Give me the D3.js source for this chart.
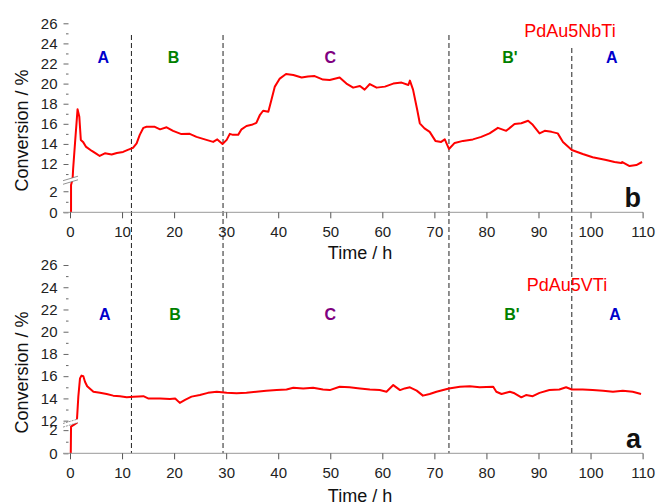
<!DOCTYPE html>
<html>
<head>
<meta charset="utf-8">
<script src="https://cdn.jsdelivr.net/npm/d3@7"></script>
<style>
  body { margin: 0; background: #fff; }
  svg { display: block; font-family: Arial, "Liberation Sans", sans-serif; }
</style>
</head>
<body>
<script>
// conversion vs time, [time h, conversion %]
const seriesB = [
  [0.2, 0], [0.2, 2.6], [0.5, 10.5], [0.6, 11.5], [0.96, 14.06], [1.45, 17.44], [1.79, 16.7],
  [2.08, 14.4], [2.5, 14.2], [3.1, 13.7], [4.2, 13.3], [5.1, 13.0], [5.7, 12.8], [6.7, 13.06],
  [8.0, 12.95], [9.0, 13.1], [10.2, 13.2], [11.1, 13.4], [12.1, 13.6], [12.8, 14.06],
  [13.4, 14.9], [14.1, 15.6], [14.7, 15.7], [16.3, 15.7], [17.3, 15.45], [18.56, 15.65],
  [19.8, 15.3], [21.4, 14.98], [23.0, 15.0], [24.3, 14.7], [26.2, 14.4], [27.5, 14.2],
  [28.3, 14.45], [29.3, 14.0], [30.1, 14.4], [30.7, 15.0], [31.3, 14.9], [32.3, 14.9],
  [32.95, 15.45], [33.9, 15.78], [34.9, 15.9], [35.8, 16.1], [36.5, 16.9], [37.1, 17.3],
  [38.1, 17.2], [38.7, 18.4], [39.35, 19.7], [40.3, 20.5], [41.5, 20.95], [42.9, 20.85],
  [44.5, 20.6], [45.7, 20.7], [47.0, 20.75], [48.6, 20.4], [49.9, 20.35], [51.8, 20.6],
  [53.1, 20.0], [54.4, 19.6], [55.7, 19.76], [56.6, 19.4], [57.6, 19.96], [58.9, 19.6],
  [60.5, 19.7], [62.1, 20.0], [63.7, 20.1], [65.0, 19.86], [65.3, 20.3], [65.9, 19.4],
  [66.7, 17.4], [67.2, 16.05], [68.1, 15.55], [69.1, 15.2], [70.2, 14.3], [71.3, 14.2],
  [72.0, 14.45], [72.8, 13.5], [73.9, 14.1], [75.5, 14.3], [77.4, 14.45], [79.0, 14.7],
  [80.6, 15.05], [82.2, 15.6], [83.8, 15.3], [85.4, 15.98], [86.7, 16.05], [88.0, 16.3],
  [88.9, 15.9], [90.2, 15.05], [91.2, 15.3], [92.5, 15.2], [93.7, 15.05], [94.7, 14.2],
  [96.4, 13.4], [98.5, 13.0], [100.4, 12.67], [103.0, 12.4], [104.6, 12.2], [105.9, 12.1],
  [106.1, 12.2], [107.5, 11.8], [108.8, 11.9], [109.9, 12.2]
];

const seriesA = [
  [0.15, 0], [0.2, 2.3], [1.3, 11.8], [1.6, 14.16], [1.92, 15.8], [2.2, 16.05], [2.56, 16.0],
  [2.88, 15.5], [3.3, 15.1], [4.5, 14.6], [5.76, 14.5], [7.04, 14.4], [8.3, 14.25], [9.6, 14.2],
  [10.9, 14.1], [12.2, 14.15], [14.1, 14.2], [15.0, 14.0], [17.3, 14.0], [19.2, 13.95],
  [20.2, 14.0], [21.1, 13.6], [22.1, 13.86], [23.35, 14.16], [24.95, 14.3], [26.5, 14.5],
  [28.2, 14.6], [30.1, 14.5], [32.0, 14.46], [33.9, 14.5], [35.8, 14.6], [37.7, 14.7],
  [39.7, 14.75], [41.6, 14.8], [42.9, 14.96], [44.8, 14.9], [46.7, 14.96], [48.6, 14.8],
  [49.9, 14.75], [51.8, 15.05], [53.7, 15.0], [55.7, 14.9], [57.6, 14.8], [59.5, 14.75],
  [60.8, 14.6], [62.1, 15.2], [63.4, 14.75], [64.3, 14.9], [65.3, 15.0], [66.6, 14.7],
  [67.8, 14.25], [69.1, 14.4], [70.4, 14.6], [72.8, 14.9], [74.9, 15.05], [76.8, 15.1],
  [78.7, 15.0], [81.3, 15.05], [81.9, 14.6], [82.9, 14.4], [84.5, 14.6], [85.4, 14.46],
  [86.7, 14.1], [87.6, 14.3], [88.9, 14.2], [90.2, 14.5], [92.1, 14.75], [94.0, 14.8],
  [95.3, 15.0], [96.4, 14.8], [98.5, 14.8], [100.4, 14.75], [102.4, 14.7], [104.3, 14.6],
  [106.2, 14.7], [108.1, 14.6], [109.7, 14.4]
];

const phaseBounds = [11.8, 29.4, 72.8, 96.4];          // dashed lines, h
const phaseLabels = ["A", "B", "C", "B'", "A"];
const phaseColors = ["#0000cc", "#008000", "#800080", "#008000", "#0000cc"];
const phasePosB = [6.4, 19.9, 50, 84.5, 104.1];        // label centres, h
const phasePosA = [6.7, 20.2, 50, 84.9, 104.7];
const xTicks = d3.range(0, 111, 10);
const yMajor = [0, 2, 12, 14, 16, 18, 20, 22, 24, 26];
const yMinor = [1, 11, 13, 15, 17, 19, 21, 23, 25];

const width = 656, height = 504;
const axisX = 68.5;

const x = d3.scaleLinear().domain([0, 110]).range([70, 642.6]);

// broken y axis: piecewise scale, lower part 0..low, upper part high..26
const panels = [
  { data: seriesB, name: "PdAu5NbTi", letter: "b", phasePos: phasePosB,
    yDomain: [0, 2.7, 10.3, 26], yRange: [212.3, 183.9, 181.1, 23.3],
    labelY: 63.3, nameX: 570, nameY: 36.7, letterY: 206.7, titleY: 259.3, ylabelY: 130.5 },
  { data: seriesA, name: "PdAu5VTi", letter: "a", phasePos: phasePosA,
    yDomain: [0, 2.4, 11.6, 26], yRange: [453.3, 425.5, 425.1, 265],
    labelY: 320, nameX: 567, nameY: 290.7, letterY: 448.3, titleY: 501.5, ylabelY: 372.5 }
];

const svg = d3.select("body").append("svg")
  .attr("width", width)
  .attr("height", height)
  .attr("viewBox", [0, 0, width, height]);

// phase boundaries run through both panels
svg.append("g")
  .attr("stroke", "#222")
  .attr("stroke-width", 1)
  .attr("stroke-dasharray", "5 3")
  .selectAll("line")
  .data(phaseBounds)
  .join("line")
  .attr("x1", d => x(d))
  .attr("x2", d => x(d))
  .attr("y1", (d, i) => i === phaseBounds.length - 1 ? 48 : 35)
  .attr("y2", panels[1].yRange[0]);

panels.forEach(p => {
  const y = d3.scaleLinear().domain(p.yDomain).range(p.yRange);
  const g = svg.append("g");
  const zeroY = p.yRange[0];
  const breakY = (p.yRange[1] + p.yRange[2]) / 2;

  // curve
  const line = d3.line()
    .x(d => x(d[0]))
    .y(d => y(d[1]));

  g.append("path")
    .datum(p.data)
    .attr("fill", "none")
    .attr("stroke", "#ff0000")
    .attr("stroke-width", 2)
    .attr("stroke-linejoin", "round")
    .attr("d", line);

  // axis break mark
  const bx0 = 63, bx1 = 78, slope = -4.5, gap = 1.8;
  g.append("path")
    .attr("fill", "#fff")
    .attr("d", `M${bx0},${breakY + gap}L${bx1},${breakY + gap + slope}L${bx1},${breakY - gap + slope}L${bx0},${breakY - gap}Z`);
  g.append("g")
    .attr("stroke", "#777")
    .attr("stroke-width", 0.8)
    .attr("stroke-dasharray", p.letter === "a" ? "2 1" : null)
    .selectAll("line")
    .data([gap, -gap])
    .join("line")
    .attr("x1", bx0).attr("x2", bx1)
    .attr("y1", d => breakY + d)
    .attr("y2", d => breakY + d + slope);

  // y axis, major + minor ticks, no domain line
  const inRange = v => v <= p.yDomain[1] || v >= p.yDomain[2];
  g.append("g")
    .attr("transform", `translate(${axisX},0)`)
    .call(d3.axisLeft(y).tickValues(yMajor.filter(inRange)).tickSize(5).tickPadding(6))
    .call(a => a.select(".domain").remove())
    .call(a => a.selectAll(".tick line").attr("stroke", "#666"))
    .call(a => a.selectAll(".tick text")
      .attr("font-size", 15)
      .attr("font-family", "Arial, 'Liberation Sans', sans-serif")
      .attr("fill", "#222"));

  g.append("g")
    .attr("transform", `translate(${axisX},0)`)
    .call(d3.axisLeft(y).tickValues(yMinor.filter(inRange)).tickSize(2.5).tickFormat(""))
    .call(a => a.select(".domain").remove())
    .call(a => a.selectAll(".tick line").attr("stroke", "#666"));

  // x axis
  g.append("line")
    .attr("x1", 63).attr("x2", 643)
    .attr("y1", zeroY).attr("y2", zeroY)
    .attr("stroke", "#999")
    .attr("stroke-width", 1);

  g.append("g")
    .attr("transform", `translate(0,${zeroY})`)
    .call(d3.axisBottom(x).tickValues(xTicks).tickSize(6).tickPadding(8))
    .call(a => a.select(".domain").remove())
    .call(a => a.selectAll(".tick line").attr("stroke", "#555"))
    .call(a => a.selectAll(".tick text")
      .attr("font-size", 15)
      .attr("font-family", "Arial, 'Liberation Sans', sans-serif")
      .attr("fill", "#222"));

  // axis titles
  g.append("text")
    .attr("x", 360)
    .attr("y", p.titleY)
    .attr("text-anchor", "middle")
    .attr("font-size", 18)
    .attr("fill", "#111")
    .text("Time / h");

  g.append("text")
    .attr("transform", `translate(28,${p.ylabelY}) rotate(-90)`)
    .attr("text-anchor", "middle")
    .attr("font-size", 18)
    .attr("fill", "#111")
    .text("Conversion / %");

  // phase letters
  g.append("g")
    .attr("font-size", 16)
    .attr("font-weight", "bold")
    .attr("text-anchor", "middle")
    .selectAll("text")
    .data(phaseLabels)
    .join("text")
    .attr("x", (d, i) => x(p.phasePos[i]))
    .attr("y", p.labelY)
    .attr("fill", (d, i) => phaseColors[i])
    .text(d => d);

  // sample name and panel letter
  g.append("text")
    .attr("x", p.nameX)
    .attr("y", p.nameY)
    .attr("text-anchor", "middle")
    .attr("font-size", 18)
    .attr("fill", "#ff0000")
    .text(p.name);

  g.append("text")
    .attr("x", 641)
    .attr("y", p.letterY)
    .attr("text-anchor", "end")
    .attr("font-size", 27)
    .attr("font-weight", "bold")
    .attr("fill", "#111")
    .text(p.letter);
});
</script>
</body>
</html>
